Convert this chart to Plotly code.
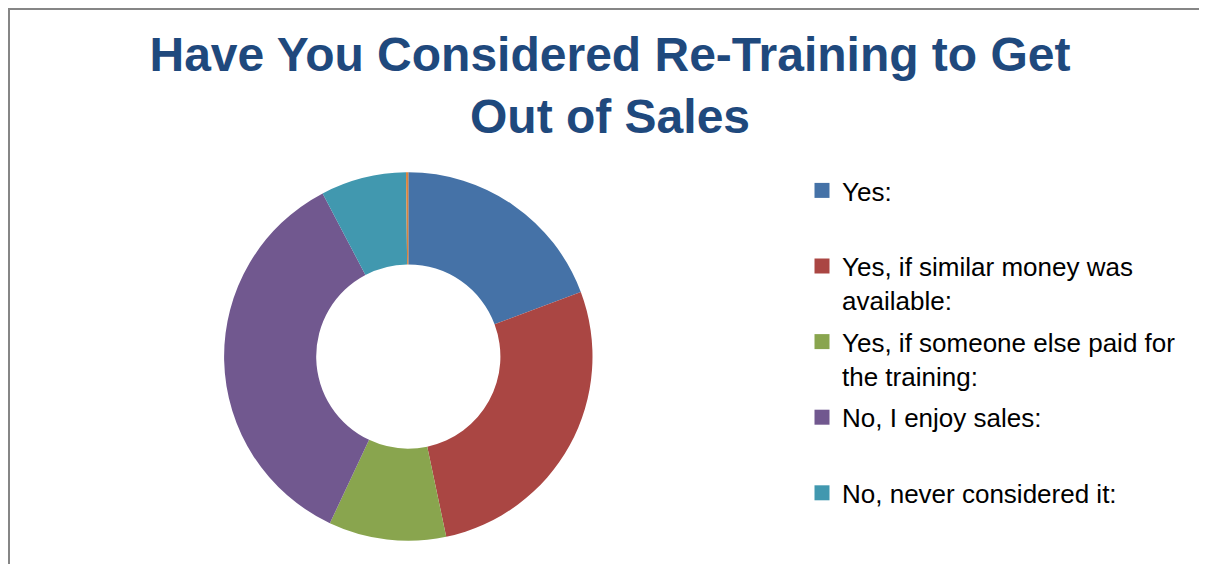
import plotly.graph_objects as go

# ---- data ----
categories = [
    "Yes:",
    "Yes, if similar money was available:",
    "Yes, if someone else paid for the training:",
    "No, I enjoy sales:",
    "No, never considered it:",
    "Other:",
]
legend_labels = [
    "Yes:<br> ",
    "Yes, if similar money was<br>available:",
    "Yes, if someone else paid for<br>the training:",
    "No, I enjoy sales:<br> ",
    "No, never considered it:<br> ",
]
values = [19.3, 27.4, 10.3, 35.3, 7.5, 0.2]
colors = ["#4572A7", "#AA4643", "#89A54E", "#71588F", "#4198AF", "#DB843D"]
title_text = "Have You Considered Re-Training to Get<br>Out of Sales"

W, H = 1207, 564
FONT = "Liberation Sans, Arial, sans-serif"

# pie geometry in figure pixels (centre / outer radius)
CX, CY, R = 400.3, 348.5, 184.2

fig = go.Figure()
fig.add_trace(go.Pie(
    labels=categories,
    values=values,
    marker=dict(colors=colors, line=dict(width=0)),
    hole=0.5,
    sort=False,
    direction="clockwise",
    rotation=0,
    textinfo="none",
    hoverinfo="label+percent",
    showlegend=False,
    domain=dict(x=[(CX - R) / W, (CX + R) / W],
                y=[1 - (CY + R) / H, 1 - (CY - R) / H]),
))

# legend entries (first five categories)
for i, (lab, col) in enumerate(zip(legend_labels, colors[:5])):
    fig.add_trace(go.Scatter(
        x=[None], y=[None], mode="markers", name=lab,
        legendgroup="g%d" % i,
        marker=dict(symbol="square", size=15, color=col),
        hoverinfo="skip",
    ))

fig.update_layout(
    width=W, height=H,
    margin=dict(l=0, r=0, t=0, b=0),
    paper_bgcolor="white", plot_bgcolor="white",
    font=dict(family=FONT, color="#000000"),
    title=dict(
        text="<b>" + title_text + "</b>",
        font=dict(family=FONT, size=48, color="#1F497D"),
        x=602 / W, xanchor="center",
        y=1 - 63 / H, yanchor="top", yref="container",
    ),
    xaxis=dict(visible=False),
    yaxis=dict(visible=False),
    legend=dict(
        x=794 / W, xanchor="left",
        y=1 - 159 / H, yanchor="top",
        font=dict(family=FONT, size=26, color="#000000"),
        valign="top",
        tracegroupgap=5,
        bgcolor="rgba(0,0,0,0)",
        borderwidth=0,
        itemclick=False, itemdoubleclick=False,
    ),
    shapes=[dict(
        type="rect", xref="paper", yref="paper",
        x0=1 / W, x1=1.05, y0=-0.05, y1=1 - 1 / H,
        line=dict(color="#868686", width=2), fillcolor="rgba(0,0,0,0)",
        layer="above",
    )],
)

fig.write_html("out.html", post_script="document.body.style.overflow='hidden';")
